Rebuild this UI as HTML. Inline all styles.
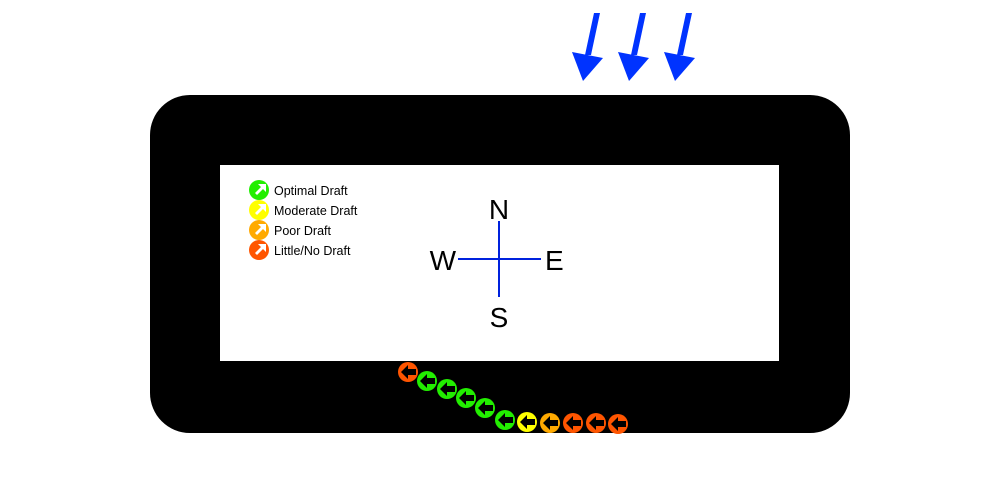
<!DOCTYPE html>
<html><head><style>body{margin:0;background:#fff}svg{display:block}</style></head><body>
<svg width="1000" height="500" xmlns="http://www.w3.org/2000/svg" font-family="Liberation Sans, sans-serif">
<defs>
<g id="c"><path d="M-7,0 L0,-7 L0,-3 L8,-3 L8,3 L0,3 L0,7 Z" fill="#000"/></g>
<g id="l"><path d="M-5,3 L1,-3 L-2,-6 L6,-6 L6,2 L3,-1 L-3,5 Z" fill="#fff"/></g>
</defs>
<rect x="150" y="95" width="700" height="338" rx="40" fill="#000"/>
<rect x="220" y="165" width="559" height="196" fill="#fff"/>
<g fill="#0033ff">
<polygon points="594,13 600,13 591,55 585,55"/><polygon points="572,52 603,58 583,81"/>
<polygon points="640,13 646,13 637,55 631,55"/><polygon points="618,52 649,58 629,81"/>
<polygon points="686,13 692,13 683,55 677,55"/><polygon points="664,52 695,58 675,81"/>
</g>
<g stroke="#0022dd" stroke-width="2"><line x1="499" y1="221" x2="499" y2="297"/><line x1="458" y1="259" x2="541" y2="259"/></g>
<g font-size="28" fill="#000">
<text x="499" y="219" text-anchor="middle">N</text>
<text x="456" y="270" text-anchor="end">W</text>
<text x="545" y="270">E</text>
<text x="499" y="327" text-anchor="middle">S</text>
</g>
<g font-size="12.5" fill="#000">
<circle cx="259" cy="190" r="10" fill="#22ee00"/><use href="#l" x="260" y="190"/><text x="274" y="195">Optimal Draft</text>
<circle cx="259" cy="210" r="10" fill="#ffff00"/><use href="#l" x="260" y="210"/><text x="274" y="215">Moderate Draft</text>
<circle cx="259" cy="230" r="10" fill="#ffaa00"/><use href="#l" x="260" y="230"/><text x="274" y="235">Poor Draft</text>
<circle cx="259" cy="250" r="10" fill="#ff5500"/><use href="#l" x="260" y="250"/><text x="274" y="255">Little/No Draft</text>
</g>
<circle cx="408" cy="372" r="10" fill="#ff5500"/><use href="#c" x="408" y="372"/>
<circle cx="427" cy="381" r="10" fill="#22ee00"/><use href="#c" x="427" y="381"/>
<circle cx="447" cy="389" r="10" fill="#22ee00"/><use href="#c" x="447" y="389"/>
<circle cx="466" cy="398" r="10" fill="#22ee00"/><use href="#c" x="466" y="398"/>
<circle cx="485" cy="408" r="10" fill="#22ee00"/><use href="#c" x="485" y="408"/>
<circle cx="505" cy="420" r="10" fill="#22ee00"/><use href="#c" x="505" y="420"/>
<circle cx="527" cy="422" r="10" fill="#ffff00"/><use href="#c" x="527" y="422"/>
<circle cx="550" cy="423" r="10" fill="#ffaa00"/><use href="#c" x="550" y="423"/>
<circle cx="573" cy="423" r="10" fill="#ff5500"/><use href="#c" x="573" y="423"/>
<circle cx="596" cy="423" r="10" fill="#ff5500"/><use href="#c" x="596" y="423"/>
<circle cx="618" cy="424" r="10" fill="#ff5500"/><use href="#c" x="618" y="424"/>
</svg>
</body></html>
